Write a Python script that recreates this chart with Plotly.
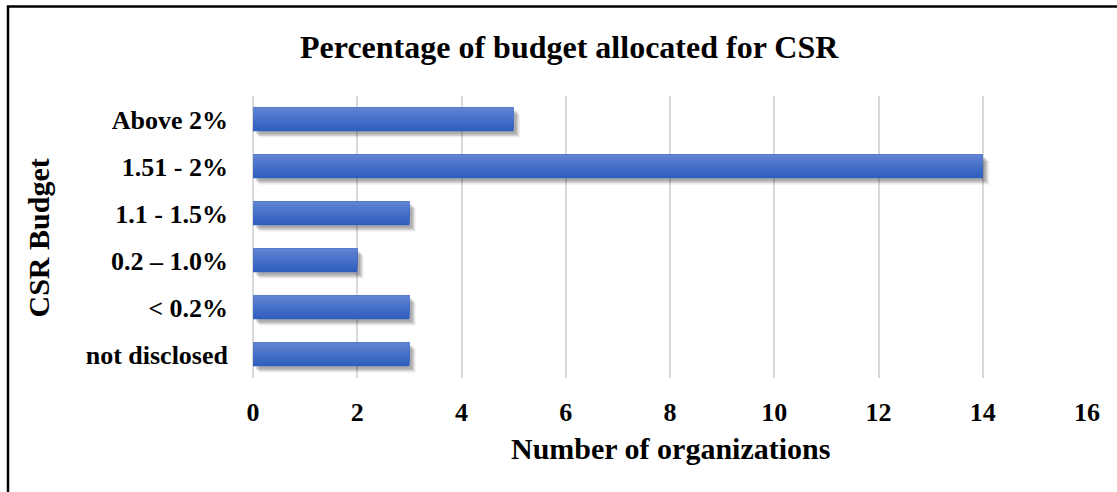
import plotly.graph_objects as go

# CSR budget bands (bottom to top) and number of organizations in each
categories = ["not disclosed", "< 0.2%", "0.2 – 1.0%", "1.1 - 1.5%", "1.51 - 2%", "Above 2%"]
counts = [3, 3, 2, 3, 14, 5]
x_ticks = [0, 2, 4, 6, 8, 10, 12, 14, 16]

FONT = "Liberation Serif, Times New Roman, serif"
BAR_W = 0.5

fig = go.Figure()

# soft drop shadow under each bar, built from a few translucent layers
for shift, alpha in [(0.12, 0.08), (0.09, 0.12), (0.06, 0.16)]:
    fig.add_trace(go.Bar(
        y=categories, x=counts, base=shift, orientation="h",
        width=BAR_W, offset=-BAR_W / 2 - shift * 1.1,
        marker=dict(color=f"rgba(0,0,0,{alpha})", line=dict(width=0)),
        hoverinfo="skip", showlegend=False,
    ))

# vertical gradient fill: each layer covers from its level to the bar top
top = (95, 130, 210)
bottom = (46, 94, 190)
n = 14
for i in range(n):
    t = i / (n - 1)
    c = tuple(round(bottom[k] + (top[k] - bottom[k]) * t) for k in range(3))
    fig.add_trace(go.Bar(
        y=categories, x=counts, orientation="h",
        width=BAR_W * (1 - i / n), offset=-BAR_W / 2 + i * BAR_W / n,
        marker=dict(color=f"rgb{c}", line=dict(width=0)),
        hoverinfo="skip", showlegend=False,
    ))

fig.update_layout(
    width=1117, height=492,
    margin=dict(l=253, r=30, t=96, b=114),
    paper_bgcolor="white", plot_bgcolor="white",
    barmode="overlay", bargap=0.5,
    showlegend=False,
    font=dict(family=FONT, color="black"),
    xaxis=dict(
        range=[0, 16], tickvals=x_ticks, ticktext=[str(v) for v in x_ticks],
        showgrid=True, gridcolor="#d9d9d9", gridwidth=1.5,
        zeroline=True, zerolinecolor="#d9d9d9", zerolinewidth=1.5,
        showline=False, ticks="", ticklabelstandoff=16,
        tickfont=dict(size=26, family=FONT, color="black", weight="bold"),
    ),
    yaxis=dict(
        categoryorder="array", categoryarray=categories,
        showgrid=False, zeroline=False, showline=False, ticks="",
        ticklabelstandoff=24,
        tickfont=dict(size=26, family=FONT, color="black", weight="bold"),
    ),
    annotations=[
        dict(text="<b>Percentage of budget allocated for CSR</b>", xref="paper", yref="paper",
             x=(569 - 253) / 834, y=(378.5 - 47) / 282, xanchor="center", yanchor="middle",
             showarrow=False, font=dict(size=32, family=FONT, color="black")),
        dict(text="<b>Number of organizations</b>", xref="paper", yref="paper",
             x=0.5, y=(378.5 - 449) / 282, xanchor="center", yanchor="middle",
             showarrow=False, font=dict(size=30, family=FONT, color="black")),
        dict(text="<b>CSR Budget</b>", xref="paper", yref="paper",
             x=(38 - 253) / 834, y=(378.5 - 239) / 282, xanchor="center", yanchor="middle",
             textangle=-90, showarrow=False, font=dict(size=30, family=FONT, color="black")),
    ],
    shapes=[
        dict(type="rect", xref="paper", yref="paper",
             x0=(8 - 253) / 834, x1=1.2, y0=-0.6, y1=(378.5 - 7) / 282,
             line=dict(color="black", width=2.5), fillcolor="rgba(0,0,0,0)", layer="below"),
    ],
)

fig.write_html("out.html")
